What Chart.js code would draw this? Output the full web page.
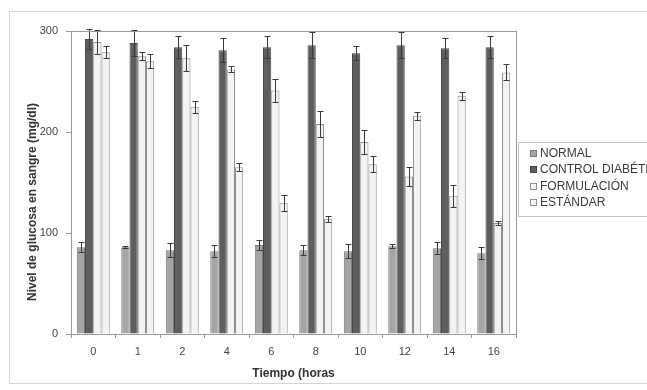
<!DOCTYPE html>
<html>
<head>
<meta charset="utf-8">
<script src="https://cdn.jsdelivr.net/npm/chart.js@4.4.1/dist/chart.umd.min.js"></script>
<style>
  html, body { margin: 0; padding: 0; background: #ffffff; }
  #wrap { position: relative; width: 647px; height: 390px; }
</style>
</head>
<body>
<div id="wrap"><canvas id="chart" width="647" height="390"></canvas></div>
<script>
// data
const labels = ["0", "1", "2", "4", "6", "8", "10", "12", "14", "16"];
const seriesNames = ["NORMAL", "CONTROL DIABÉTICO", "FORMULACIÓN", "ESTÁNDAR"];

const normal = [86, 86, 83, 82, 88, 83, 82, 87, 85, 80];
const control = [292, 288, 284, 281, 284, 286, 278, 286, 283, 284];
const formulacion = [289, 275, 273, 262, 241, 208, 190, 156, 137, 110];
const estandar = [279, 270, 225, 165, 130, 114, 168, 216, 236, 259];

const normalErr = [5, 1, 7, 6, 5, 5, 7, 2, 6, 6];
const controlErr = [10, 13, 11, 12, 11, 13, 7, 13, 10, 11];
const formulacionErr = [12, 4, 13, 3, 11, 13, 12, 9, 11, 2];
const estandarErr = [6, 7, 6, 4, 8, 3, 8, 4, 4, 8];

const yTicks = [0, 100, 200, 300];
const yTitle = "Nivel de glucosa en sangre (mg/dl)";

const FONT = "'Liberation Sans', Arial, sans-serif";

function makeSet(name, values, errs, bg, border) {
    return {
        label: name,
        data: values,
        errors: errs,
        backgroundColor: bg,
        borderColor: border,
        borderWidth: 1,
        categoryPercentage: 0.74,
        barPercentage: 1.0
    };
}

// white page + thin outer frame + plot box + y title (sits a bit low in the original)
const framePlugin = {
    id: "frame",
    beforeDraw(chart) {
        const ctx = chart.ctx;
        ctx.save();
        ctx.fillStyle = "#ffffff";
        ctx.fillRect(0, 0, chart.width, chart.height);
        ctx.strokeStyle = "#d4d4d4";
        ctx.lineWidth = 1;
        ctx.strokeRect(9.5, 11.5, 700, 372);
        ctx.restore();
    },
    afterDraw(chart) {
        const a = chart.chartArea;
        const ctx = chart.ctx;
        ctx.save();
        ctx.strokeStyle = "#9a9a9a";
        ctx.lineWidth = 1;
        ctx.strokeRect(Math.round(a.left) + 0.5, Math.round(a.top) + 0.5,
            Math.round(a.right - a.left), Math.round(a.bottom - a.top));

        ctx.translate(33, 202);
        ctx.rotate(-Math.PI / 2);
        ctx.font = "bold 12px " + FONT;
        ctx.fillStyle = "#333333";
        ctx.textAlign = "center";
        ctx.textBaseline = "middle";
        ctx.fillText(yTitle, 0, 0);
        ctx.restore();
    }
};

// error bars, drawn from the dataset values through the y scale
const errorBarPlugin = {
    id: "errorBars",
    afterDatasetsDraw(chart) {
        const ctx = chart.ctx;
        const y = chart.scales.y;
        ctx.save();
        ctx.strokeStyle = "#3a3a3a";
        ctx.lineWidth = 1;
        chart.data.datasets.forEach((ds, i) => {
            const meta = chart.getDatasetMeta(i);
            meta.data.forEach((bar, j) => {
                const v = ds.data[j];
                const e = ds.errors[j];
                const x = Math.round(bar.x) + 0.5;
                const yTop = Math.round(y.getPixelForValue(v + e)) + 0.5;
                const yBot = Math.round(y.getPixelForValue(v - e)) + 0.5;
                ctx.beginPath();
                ctx.moveTo(x, yTop);
                ctx.lineTo(x, yBot);
                ctx.moveTo(x - 3, yTop);
                ctx.lineTo(x + 3, yTop);
                ctx.moveTo(x - 3, yBot);
                ctx.lineTo(x + 3, yBot);
                ctx.stroke();
            });
        });
        ctx.restore();
    }
};

// boxed legend on the right, runs off the edge like the original
const legendPlugin = {
    id: "boxLegend",
    afterDraw(chart) {
        const ctx = chart.ctx;
        ctx.save();
        ctx.strokeStyle = "#c4c4c4";
        ctx.lineWidth = 1;
        ctx.strokeRect(518.5, 142.5, 200, 74);
        ctx.font = "12px " + FONT;
        ctx.textBaseline = "middle";
        chart.data.datasets.forEach((ds, i) => {
            const cy = 153 + i * 16.5;
            ctx.fillStyle = ds.backgroundColor;
            ctx.fillRect(530, Math.round(cy - 3.5), 7, 7);
            ctx.strokeStyle = ds.borderColor;
            ctx.strokeRect(530.5, Math.round(cy - 3.5) + 0.5, 6, 6);
            ctx.fillStyle = "#3a3a3a";
            ctx.fillText(ds.label, 540, cy + 0.5);
        });
        ctx.restore();
    }
};

const ctx = document.getElementById("chart").getContext("2d");
new Chart(ctx, {
    type: "bar",
    data: {
        labels: labels,
        datasets: [
            makeSet(seriesNames[0], normal, normalErr, "#a5a5a5", "#7a7a7a"),
            makeSet(seriesNames[1], control, controlErr, "#5e5e5e", "#444444"),
            makeSet(seriesNames[2], formulacion, formulacionErr, "#f3f3f3", "#8e8e8e"),
            makeSet(seriesNames[3], estandar, estandarErr, "#f3f3f3", "#8e8e8e")
        ]
    },
    options: {
        responsive: false,
        animation: false,
        layout: { padding: { left: 9, top: 31, right: 131, bottom: 9 } },
        plugins: {
            legend: { display: false },
            tooltip: { enabled: false }
        },
        scales: {
            x: {
                offset: true,
                grid: { display: true, drawOnChartArea: false, drawTicks: true, tickLength: 4, color: "#9a9a9a" },
                border: { display: true, color: "#9a9a9a" },
                ticks: { color: "#444444", font: { family: FONT, size: 11 }, padding: 7, maxRotation: 0 },
                title: { display: true, text: "Tiempo (horas", color: "#333333",
                    font: { family: FONT, size: 12, weight: "bold" }, padding: { top: 4, bottom: 0 } },
                afterFit(scale) { scale.height = 47; }
            },
            y: {
                min: 0,
                max: 300,
                afterBuildTicks(scale) { scale.ticks = yTicks.map(v => ({ value: v })); },
                grid: { display: true, drawOnChartArea: false, drawTicks: true, tickLength: 5, color: "#9a9a9a" },
                border: { display: true, color: "#9a9a9a" },
                ticks: { color: "#444444", font: { family: FONT, size: 11 }, padding: 8 },
                title: { display: false },
                afterFit(scale) { scale.width = 62; }
            }
        }
    },
    plugins: [framePlugin, errorBarPlugin, legendPlugin]
});
</script>
</body>
</html>
